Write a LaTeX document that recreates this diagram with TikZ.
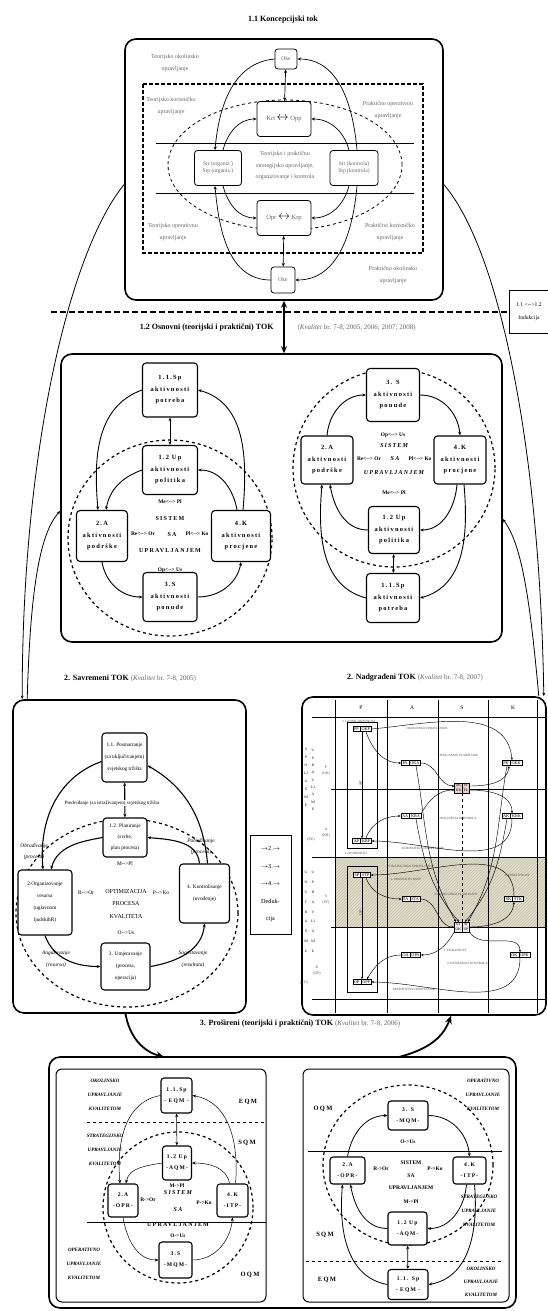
\documentclass[tikz,border=0pt]{standalone}
\usepackage{fontspec}
\setmainfont{Liberation Serif}
\newfontfamily\wide[LetterSpace=20]{Liberation Serif}
\usetikzlibrary{arrows.meta,shapes.multipart,patterns}
\definecolor{txtgray}{gray}{0.40}
\definecolor{khaki}{RGB}{226,222,192}
\definecolor{pinkbox}{RGB}{228,210,202}
\definecolor{cellgray}{RGB}{236,234,228}
\newcommand\fz[2]{\fontsize{#1}{#2}\selectfont}
\newcommand\dlr{<-\kern0pt->}
\newcommand\dra{-\kern0pt->}
\begin{document}
\begin{tikzpicture}[x=1pt, y=-1pt, >={Stealth[length=3.6pt,width=3pt]},
  frame/.style={draw, line width=1.6pt, rounded corners=11pt},
  inframe/.style={draw, line width=1pt, rounded corners=6pt},
  kbox/.style={draw, line width=0.8pt, rounded corners=3pt, fill=white, align=center,
    inner sep=1pt, text=txtgray, font=\fz{5.6}{7}},
  glbl/.style={text=txtgray, align=center, font=\fz{6}{12}},
  abox/.style={draw, line width=1.1pt, rounded corners=3.5pt, fill=white, align=center,
    inner sep=1pt, font=\wide\bfseries\fz{6.4}{11.5}},
  small/.style={font=\bfseries\fz{5.4}{6}},
  sys/.style={align=center, font=\wide\bfseries\fz{6}{7}},
  sbox/.style={draw, line width=1.1pt, rounded corners=3.5pt, fill=white, align=center,
    inner sep=1pt, font=\fz{5.3}{12}},
  slbl/.style={align=center, font=\itshape\fz{5.4}{11}},
  title/.style={font=\bfseries\fz{8}{10}},
  cite/.style={text=txtgray, font=\fz{7}{8}},
  cell/.style={rectangle split, rectangle split horizontal, rectangle split parts=2,
    draw, line width=0.5pt, fill=white, inner sep=1.2pt, font=\fz{4.2}{5}},
  tiny/.style={text=black!70, font=\fz{3.2}{4}, align=center},
  qbox/.style={draw, line width=1.1pt, rounded corners=3pt, fill=white, align=center,
    inner sep=0.8pt, font=\wide\bfseries\fz{5.6}{11}},
  qlbl/.style={align=center, font=\bfseries\itshape\fz{5}{14}},
  qm/.style={font=\wide\bfseries\fz{6.5}{7}}]
\useasboundingbox[fill=white] (0,0) rectangle (548,1311);

% 1.1 Koncepcijski tok
\node[title] (t11) at (283,20) {1.1 Koncepcijski tok};
\node[frame, minimum width=318pt, minimum height=261pt] (f11) at (284,169.5) {};
\draw[line width=1.2pt, dash pattern=on 4pt off 2pt] (143,84) rectangle (423,253);
\draw[dashed, line width=0.8pt] (285,165) ellipse [x radius=117pt, y radius=65pt];
\draw[line width=0.9pt] (156,143) -- (414,143) (156,193) -- (414,193);

\node[glbl] (gto) at (175,63) {Teorijsko okolinsko\\upravljanje};
\node[glbl] (gtk) at (171,106) {Teorijsko korisničko\\upravljanje};
\node[glbl] (gpo) at (388,110) {Praktično operativno\\upravljanje};
\node[glbl, font=\fz{6}{11.5}] (gsr) at (285,166) {Teorijsko i praktično\\strategijsko upravljanje,\\organizovanje i kontrola};
\node[glbl] (gtop) at (173,232) {Teorijsko operativno\\upravljanje};
\node[glbl] (gpk) at (390,232) {Praktično korisničko\\upravljanje};
\node[glbl] (gpok) at (393,275) {Praktično okolinsko\\upravljanje};

\node[kbox, minimum width=22pt, minimum height=20pt] (oke1) at (286,59) {Oke};
\node[kbox, minimum width=54pt, minimum height=35pt, font=\fz{6.5}{8}] (krt) at (284,119) {Krt \textcolor{black}{\fz{13}{13}$\leftrightarrow$} Opp};
\node[kbox, minimum width=47pt, minimum height=35pt] (sorg) at (218,168) {Str (organiz.)\\Stp (organiz.)};
\node[kbox, minimum width=48pt, minimum height=35pt] (skon) at (354,168) {Str (kontrola)\\Stp (kontrola)};
\node[kbox, minimum width=54pt, minimum height=35pt, font=\fz{6.5}{8}] (opr) at (284,218) {Opr \textcolor{black}{\fz{13}{13}$\leftrightarrow$} Krp};
\node[kbox, minimum width=24pt, minimum height=26pt] (oke2) at (283,280) {Oke};

\path[<->, line width=0.7pt] (oke1) edge (krt) (opr) edge (oke2);
\path[->, line width=0.7pt]
  (oke1.west) edge[out=185,in=85] ([xshift=-3pt]sorg.north)
  ([xshift=3pt]skon.north) edge[out=95,in=0] (oke1.east)
  ([xshift=5pt]sorg.north) edge[out=75,in=180] (krt.west)
  ([xshift=-5pt]skon.north) edge[out=105,in=0] (krt.east)
  ([xshift=5pt]sorg.south) edge[out=-75,in=180] (opr.west)
  ([xshift=-5pt]skon.south) edge[out=-105,in=0] (opr.east)
  (oke2.west) edge[out=180,in=-85] ([xshift=-3pt]sorg.south)
  ([xshift=3pt]skon.south) edge[out=-95,in=0] (oke2.east);

% granica i indukcija
\draw[line width=1.8pt, dash pattern=on 6pt off 3pt] (51,312) -- (509,312);
\node[draw, line width=0.6pt, fill=white, minimum width=40pt, minimum height=43pt,
  align=center, font=\fz{5.6}{13}] (ind) at (529,311.5) {1.1 \dlr1.2\\Indukcija};

% 1.2 Osnovni TOK
\node[title, anchor=east] (t12) at (277,328) {1.2 Osnovni (teorijski i praktični) TOK};
\node[cite, anchor=west] (c12) at (294,328) {(\textit{Kvalitet} br. 7-8, 2005; 2006; 2007; 2008)};
\node[frame, minimum width=441pt, minimum height=288pt] (f12) at (281.5,498) {};
\draw[<->, line width=1.2pt, >={Stealth[length=7pt,width=6pt]}] (f11.south) -- (f11.south |- f12.north);

\draw[dashed, line width=1.2pt] (170,538) ellipse [x radius=102pt, y radius=98pt];
\draw[dashed, line width=1.2pt] (394,468) ellipse [x radius=101pt, y radius=99pt];

\node[abox, minimum width=55pt, minimum height=54pt] (sp1) at (170,390) {1.1.Sp\\aktivnosti\\potreba};
\node[abox, minimum width=55pt, minimum height=49pt] (up1) at (170,470) {1.2 Up\\aktivnosti\\politika};
\node[abox, minimum width=51pt, minimum height=51pt] (a1) at (102,536) {2.A\\aktivnosti\\podrške};
\node[abox, minimum width=59pt, minimum height=51pt] (k1) at (241,536) {4.K\\aktivnosti\\procjene};
\node[abox, minimum width=54pt, minimum height=49pt] (s1) at (170,597) {3.S\\aktivnosti\\ponude};
\node[small] (mp1) at (170,502) {Me\dlr{} Pl};
\node[sys] (si1) at (170,519) {SISTEM};
\node[small] (ro1) at (143,534) {Re\dlr{} Or};
\node[sys] (sa1) at (172,535) {SA};
\node[small] (pk1) at (197,534) {Pl\dlr{} Ko};
\node[sys] (uj1) at (170,551) {UPRAVLJANJEM};
\node[small] (ou1) at (170,570) {Op\dlr{} Us};

\path[->, line width=0.9pt]
  (sp1.west) edge[out=200,in=95] ([xshift=-4pt]a1.north)
  ([xshift=2pt]k1.north) edge[out=85,in=-15] (sp1.east)
  (up1.west) edge[out=200,in=80] ([xshift=4pt]a1.north)
  ([xshift=-4pt]k1.north) edge[out=100,in=0] (up1.east)
  (a1.south) edge[out=-80,in=180] (s1.west)
  (s1.east) edge[out=0,in=-100] (k1.south);
\path[<->, line width=0.9pt] (sp1) edge (up1);

\node[abox, minimum width=53pt, minimum height=53pt] (s2) at (393,395) {3. S\\aktivnosti\\ponude};
\node[abox, minimum width=52pt, minimum height=48pt] (a2) at (327,460) {2.A\\aktivnosti\\podrške};
\node[abox, minimum width=52pt, minimum height=48pt] (k2) at (460,460) {4.K\\aktivnosti\\procjene};
\node[abox, minimum width=51pt, minimum height=47pt] (up2) at (394,530) {1.2 Up\\aktivnosti\\politika};
\node[abox, minimum width=53pt, minimum height=49pt] (sp2) at (393,598) {1.1.Sp\\aktivnosti\\potreba};
\node[small] (ou2) at (393,435) {Op\dlr{} Us};
\node[sys, font=\wide\bfseries\itshape\fz{6}{7}] (si2) at (394,446) {SISTEM};
\node[small] (ro2) at (369,459) {Re\dlr{} Or};
\node[sys, font=\wide\bfseries\itshape\fz{6}{7}] (sa2) at (395,459) {SA};
\node[small] (pk2) at (420,459) {Pl\dlr{} Ko};
\node[sys, font=\wide\bfseries\itshape\fz{6}{7}] (uj2) at (394,473) {UPRAVLJANJEM};
\node[small] (mp2) at (394,493) {Me\dlr{} Pl};

\path[->, line width=0.9pt]
  (a2.north) edge[out=85,in=180] (s2.west)
  (s2.east) edge[out=0,in=95] (k2.north)
  ([xshift=-3pt]k2.south) edge[out=-95,in=0] (up2.east)
  (up2.west) edge[out=180,in=-80] ([xshift=3pt]a2.south)
  (sp2.west) edge[out=165,in=-95] ([xshift=-5pt]a2.south)
  ([xshift=4pt]k2.south) edge[out=-85,in=15] (sp2.east);
\path[<->, line width=0.9pt] (up2) edge (sp2);

% 2. Savremeni TOK
\node[font=\fz{8}{10}] (t2l) at (130,678) {\textbf{2. Savremeni TOK} \textcolor{txtgray}{\fz{7}{8}(\textit{Kvalitet} br. 7-8, 2005)}};
\node[frame, minimum width=233pt, minimum height=313pt] (f2l) at (129.5,856.5) {};
\draw[dashed, line width=1.2pt] (127,913) ellipse [x radius=111pt, y radius=94pt];

\node[sbox, minimum width=45pt, minimum height=49pt] (pos) at (124.5,757.5) {1.1. Posmatranje\\(sa uključivanjem)\\svjetskog tržišta};
\node[sbox, minimum width=44pt, minimum height=39pt, font=\fz{5.3}{11}] (pla) at (125,837.5) {1.2. Planiranje\\(svrhe,\\plan procesa)};
\node[sbox, minimum width=54pt, minimum height=65pt] (org) at (45,902.5) {2.Organizovanje\\resursa\\(uglavnom\\ljudskihR)};
\node[sbox, minimum width=50pt, minimum height=59pt] (kon) at (204.5,893.5) {4. Kontrolisanje\\(uvođenje)};
\node[sbox, minimum width=49pt, minimum height=47pt] (umj) at (125.5,966.5) {3. Umjeravanje\\(procesa,\\operacija)};

\path[<->, line width=1.1pt] (pos) edge (pla);
\node[fill=white, inner sep=0.6pt, font=\fz{5}{6}] (pre) at (112,803) {Predviđanje (sa istraživanjem) svjetskog tržišta};
\node[font=\fz{5.4}{6}] (mpl) at (125,864) {M\dra Pl};
\node[font=\fz{5.4}{6}] (ror) at (86,893) {R\dra Or};
\node[align=center, font=\fz{6}{12.5}] (opt) at (126,904) {OPTIMIZACIJA\\PROCESA\\KVALITETA};
\node[font=\fz{5.4}{6}] (ous) at (126,933) {O\dra Us};
\node[font=\fz{5.4}{6}] (pko) at (161,893) {P\dra Ko};
\node[slbl] (obr) at (34,852) {Obrađivanje\\(procesa)};
\node[slbl] (pob) at (201,847) {Pobuđivanje\\(procesa)};
\node[slbl, font=\itshape\fz{5.4}{12}] (ang) at (56,959) {Angažovanje\\(resursa)};
\node[slbl, font=\itshape\fz{5.4}{12}] (sao) at (193,959) {Saopštavanje\\(rezultata)};

\path[->, line width=1.1pt]
  (pla.west) edge[out=190,in=75] ([xshift=6pt]org.north)
  ([xshift=-5pt]kon.north) edge[out=95,in=-5] (pla.east)
  ([yshift=-4pt]pos.west) edge[out=200,in=95] ([xshift=-2pt]org.north)
  ([xshift=3pt]kon.north) edge[out=95,in=-30] ([yshift=-8pt]pos.east)
  (org.south) edge[out=-70,in=180] (umj.west)
  (umj.east) edge[out=10,in=-95] (kon.south);

% dedukcija
\node[draw, line width=0.8pt, fill=white, minimum width=41pt, minimum height=99pt,
  align=center, font=\fz{6.2}{17.5}] (ded) at (270.5,884.5)
  {$\rightarrow$2.$\rightarrow$\\$\rightarrow$3.$\rightarrow$\\$\rightarrow$4.$\rightarrow$\\Deduk-\\cija};

% 2. Nadgradjeni TOK
\node[font=\fz{8}{10}] (t2r) at (415,678) {\textbf{2. Nadgrađeni TOK} \textcolor{txtgray}{\fz{7}{8}(\textit{Kvalitet} br. 7-8, 2007)}};
\node[frame, minimum width=244pt, minimum height=318pt] (f2r) at (424,856) {};
\fill[khaki] (336,857) rectangle (545,927);
\fill[pattern=north east lines, pattern color=black!25] (336,857) rectangle (545,927);
\draw[line width=0.5pt]
  (312,717) -- (545,717) (331,789) -- (545,789) (312,857) -- (545,857)
  (331,927) -- (545,927) (312,999) -- (545,999)
  (335,700) -- (335,1013) (387,700) -- (387,1013) (438,700) -- (438,1013)
  (488,700) -- (488,1013) (537,700) -- (537,1013);
\draw[line width=0.5pt] (347,722) rectangle (377,848) (347,866) rectangle (377,992);

\node[font=\fz{5.5}{6}] (hp) at (361,708) {P};
\node[font=\fz{5.5}{6}] (ha) at (412,708) {A};
\node[font=\fz{5.5}{6}] (hs) at (462,708) {S};
\node[font=\fz{5.5}{6}] (hk) at (513,708) {K};

\node[align=center, font=\fz{3.6}{8}] (vsp) at (306,777) {S\\P\\O\\LJ\\A\\Š\\NJ\\E};
\node[align=center, font=\fz{3.6}{7.3}] (vup) at (313,780) {U\\P\\R\\A\\V\\LJ\\A\\NJ\\E};
\node[align=center, font=\fz{3.6}{9.8}] (vun) at (306,912) {U\\N\\U\\T\\R\\A\\Š\\NJ\\E};
\node[align=center, font=\fz{3.6}{9.8}] (vup2) at (313,912) {U\\P\\R\\A\\V\\LJ\\A\\NJ\\E};
\node[tiny, font=\fz{3.8}{6}] (rok) at (326,771) {P\\(OK)};
\node[tiny, font=\fz{3.8}{6}] (rkr) at (326,833) {A\\(KR)};
\node[tiny, font=\fz{3.8}{6}] (rst) at (326,900) {S\\(ST)};
\node[tiny, font=\fz{3.8}{6}] (rop) at (317,971) {K\\(OP)};
\node[tiny, font=\fz{3.8}{6}] (rsu) at (311,840) {(SU)};
\node[tiny, font=\fz{3.8}{6}] (reu) at (304,983) {(EU)};

\node[tiny] (lkon) at (359,721) {1.1 KONKURENTNOST};
\node[tiny] (lokol) at (427,728) {OKOLINSKO UPRAVLJANJE};
\node[tiny] (lspl) at (459,755) {SPOLJAŠNJE PLANIRANJE};
\node[tiny, font=\fz{4.5}{5}, rotate=90] (lsp) at (361,783) {SP};
\node[tiny] (lsko) at (458,818) {SPOLJAŠNJA KONTROLA};
\node[tiny] (lkor) at (356,853) {1.2 KORISNOST};
\node[tiny] (lkup) at (423,848) {KORISNIČKO UPRAVLJANJE};
\node[tiny] (lsup) at (411,866) {STRATEGIJSKO UPRAVLJANJE};
\node[tiny] (lpro) at (406,879) {2. PRODUKTIVNOST};
\node[tiny] (lefe) at (517,875) {4. EFEKTIVNOST};
\node[tiny] (lstp) at (456,894) {STRATEGIJSKO PLANIRANJE};
\node[tiny, font=\fz{4.5}{5}, rotate=90] (lup) at (361,913) {UP};
\node[tiny] (lefi) at (455,950) {3. EFIKASNOST};
\node[tiny] (lunk) at (468,963) {(UNUTRAŠNJA KONTROLA)};
\node[tiny] (lopu) at (414,989) {OPERATIVNO UPRAVLJANJE};

\node[cell] (okp) at (362,729) {PP\nodepart{two}OKP};
\node[cell] (oka) at (411,763) {PA\nodepart{two}OKA};
\node[cell] (okk) at (512,763) {PK\nodepart{two}OKK};
\node[cell] (kra) at (411,816) {AA\nodepart{two}KRA};
\node[cell] (krk) at (512,816) {AK\nodepart{two}KRK};
\node[cell] (krp) at (362,841) {AP\nodepart{two}KRP};
\node[cell] (stp) at (362,875) {SP\nodepart{two}STP};
\node[cell] (sta) at (411,899) {SA\nodepart{two}STA};
\node[cell] (stk) at (514,899) {SK\nodepart{two}STK};
\node[cell] (opa) at (411,955) {OA\nodepart{two}OPA};
\node[cell] (opk) at (520,955) {OK\nodepart{two}OPK};
\node[cell] (opp) at (362,982) {OP\nodepart{two}OPP};
\node[cell, fill=pinkbox, align=center, font=\fz{3.6}{5}] (cup) at (462,788) {OK\\KR\nodepart{two}PI\\PL};
\node[cell, fill=cellgray, align=center, font=\fz{3.6}{5}] (cdn) at (462,927) {ST\\OK\nodepart{two}SI\\OP};
\draw[dashed, line width=0.5pt] (cup) -- (cdn);

\begin{scope}[>={Stealth[length=2.6pt,width=2.2pt]}, line width=0.45pt]
\path[->]
  (okp) edge (krp)
  (stp) edge (opp)
  (okp.east) edge[out=5,in=95] (okk.north)
  ([xshift=4pt]okp.south) edge[out=-70,in=180] (oka.west)
  (oka.east) edge[out=0,in=180] ([yshift=2pt]cup.west)
  ([yshift=2pt]cup.east) edge[out=0,in=-95] ([xshift=-3pt]okk.south)
  ([xshift=4pt]krp.north) edge[out=70,in=180] (kra.west)
  ([yshift=-2pt]cup.east) edge[out=0,in=90] (krk.north)
  (kra.north east) edge[out=60,in=180] ([yshift=-2pt]cup.west)
  (krk.south) edge[out=-90,in=0] (krp.east)
  (stk.north) edge[out=90,in=0] (stp.east)
  ([xshift=4pt]stp.south) edge[out=-70,in=180] (sta.west)
  (sta.east) edge[out=0,in=180] (cdn.west)
  (cdn.east) edge[out=0,in=-95] (stk.south)
  (opa.west) edge[out=180,in=60] ([xshift=5pt]opp.north)
  (opk.south) edge[out=-90,in=0] (opp.east)
  ([xshift=5pt]oka.south) edge[out=-80,in=120] ([xshift=-6pt]cdn.north)
  ([xshift=5pt]kra.south) edge[out=-80,in=130] ([xshift=-3pt]cdn.north)
  ([xshift=-5pt]okk.south) edge[out=-100,in=60] ([xshift=6pt]cdn.north)
  ([xshift=-5pt]krk.south) edge[out=-100,in=50] ([xshift=3pt]cdn.north)
  (cdn.south west) edge[out=-120,in=0] (opa.east)
  (cdn.south east) edge[out=-60,in=90] (opk.north);
\end{scope}

% 3. Prosireni TOK
\node[font=\fz{8}{10}] (t3) at (300,1024) {\textbf{3. Prošireni (teorijski i praktični) TOK} \textcolor{txtgray}{\fz{7}{8}(\textit{Kvalitet} br. 7-8, 2006)}};
\node[frame, minimum width=467pt, minimum height=251pt] (f3) at (282.5,1182.5) {};
\node[inframe, minimum width=210pt, minimum height=233pt] (f3l) at (161,1185.5) {};
\node[inframe, minimum width=206pt, minimum height=233pt] (f3r) at (406,1185.5) {};
\coordinate (f3a) at (164,1057);
\coordinate (f3b) at (399,1057);
\draw[->, line width=1.8pt, >={Stealth[length=8pt,width=7pt]}] ([xshift=-4pt]f2l.south) to[out=-80,in=165] (f3a);
\draw[->, line width=1.8pt, >={Stealth[length=8pt,width=7pt]}] (f3b) to[out=15,in=-110] ([xshift=27pt]f2r.south);

% lijevo
\draw[dashed, line width=1pt] (87,1122) -- (266,1122);
\draw[line width=1pt] (87,1222) -- (266,1222);
\draw[dashed, line width=1.2pt] (178,1207.5) ellipse [x radius=75pt, y radius=75.5pt];
\node[qlbl] (lok) at (105,1095) {OKOLINSKO\\UPRAVLJANJE\\KVALITETOM};
\node[qlbl] (lst) at (105,1150) {STRATEGIJSKO\\UPRAVLJANJE\\KVALITETOM};
\node[qlbl] (lop) at (84,1264) {OPERATIVNO\\UPRAVLJANJE\\KVALITETOM};
\node[qm] (leqm) at (248,1102) {EQM};
\node[qm] (lsqm) at (247,1143) {SQM};
\node[qm] (loqm) at (250,1275) {OQM};

\node[qbox, minimum width=31pt, minimum height=35pt] (q1sp) at (176.5,1095.5) {1.1.Sp\\- EQM -};
\node[qbox, minimum width=29pt, minimum height=34pt] (q1up) at (177,1163) {1.2 Up\\-AQM-};
\node[qbox, minimum width=30pt, minimum height=33pt] (q1a) at (123,1200.5) {2.A\\-OPR-};
\node[qbox, minimum width=31pt, minimum height=33pt] (q1k) at (232.5,1200.5) {4.K\\-ITP-};
\node[qbox, minimum width=33pt, minimum height=36pt] (q1s) at (175.5,1260) {3.S\\-MQM-};
\node[small] (lmp) at (177,1186) {M->Pl};
\node[small] (lro) at (148,1200) {R->Or};
\node[sys, font=\wide\bfseries\itshape\fz{6}{7}] (lsi) at (178,1193) {SISTEM};
\node[sys, font=\wide\bfseries\itshape\fz{6}{7}] (lsa) at (178,1210) {SA};
\node[small] (lpk) at (204,1203) {P->Ko};
\node[sys] (luj) at (178,1225) {UPRAVLJANJEM};
\node[small] (lou) at (178,1236) {O->Us};

\path[->, line width=0.5pt]
  (q1sp.west) edge[out=190,in=95] ([xshift=-3pt]q1a.north)
  ([xshift=3pt]q1k.north) edge[out=85,in=-10] (q1sp.east)
  (q1up.west) edge[out=190,in=80] ([xshift=3pt]q1a.north)
  ([xshift=-3pt]q1k.north) edge[out=100,in=0] (q1up.east)
  (q1a.south) edge[out=-80,in=180] (q1s.west)
  (q1s.east) edge[out=0,in=-95] (q1k.south);
\path[<->, line width=0.6pt] (q1sp) edge (q1up);

% desno
\draw[line width=1pt] (308,1151) -- (502,1151);
\draw[dashed, line width=1pt] (306,1261) -- (502,1261);
\draw[dashed, line width=1.2pt] (408,1165) ellipse [x radius=85pt, y radius=80pt];
\node[qlbl] (rop) at (483,1095) {OPERATIVNO\\UPRAVLJANJE\\KVALITETOM};
\node[qlbl] (rst) at (479,1211) {STRATEGIJSKO\\UPRAVLJANJE\\KVALITETOM};
\node[qlbl, font=\bfseries\itshape\fz{5}{13}] (rok) at (481,1282) {OKOLINSKO\\UPRAVLJANJE\\KVALITETOM};
\node[qm] (roqm) at (323,1109) {OQM};
\node[qm] (rsqm) at (325,1235) {SQM};
\node[qm] (reqm) at (327,1280) {EQM};

\node[qbox, minimum width=40pt, minimum height=29pt] (r3s) at (408,1115.5) {3. S\\-MQM-};
\node[qbox, minimum width=35pt, minimum height=27pt] (r2a) at (347.5,1170.5) {2.A\\-OPR-};
\node[qbox, minimum width=33pt, minimum height=27pt] (r4k) at (469.5,1170.5) {4.K\\-ITP-};
\node[qbox, minimum width=39pt, minimum height=33pt] (r1up) at (407.5,1228.5) {1.2 Up\\-AQM-};
\node[qbox, minimum width=40pt, minimum height=30pt] (r1sp) at (408,1284.5) {1.1. Sp\\- EQM -};
\node[small] (rou) at (408,1142) {O->Us};
\node[small] (rro) at (381,1169) {R->Or};
\node[sys, font=\bfseries\fz{5.5}{6}] (rsi) at (411,1163) {SISTEM};
\node[sys, font=\bfseries\fz{5.5}{6}] (rsa) at (411,1176) {SA};
\node[small] (rpk) at (435,1169) {P->Ko};
\node[sys, font=\bfseries\fz{5.5}{6}] (ruj) at (411,1188) {UPRAVLJANJEM};
\node[small] (rmp) at (411,1202) {M->Pl};

\path[->, line width=0.8pt]
  (r2a.north) edge[out=80,in=180] (r3s.west)
  (r3s.east) edge[out=0,in=95] (r4k.north)
  ([xshift=-3pt]r4k.south) edge[out=-95,in=0] (r1up.east)
  (r1up.west) edge[out=180,in=-80] ([xshift=3pt]r2a.south)
  (r1sp.west) edge[out=170,in=-95] ([xshift=-5pt]r2a.south)
  ([xshift=5pt]r4k.south) edge[out=-85,in=10] (r1sp.east);
\path[<->, line width=0.8pt] (r1up) edge (r1sp);

% veze medju tokovima
\draw[->, line width=0.8pt] ([yshift=-15pt]f11.west) .. controls (70,250) and (22,450) .. ([xshift=10pt]f2l.north west);
\draw[->, line width=0.8pt] ([xshift=15pt]f2l.north west) .. controls (30,600) and (38,535) .. ([yshift=-13pt]f12.west);
\draw[->, line width=0.8pt] ([yshift=-15pt]f11.east) .. controls (500,250) and (540,450) .. ([xshift=-3pt]f2r.north east);
\draw[->, line width=0.8pt] ([xshift=-8pt]f2r.north east) .. controls (530,600) and (522,545) .. ([yshift=-21pt]f12.east);
\end{tikzpicture}
\end{document}
